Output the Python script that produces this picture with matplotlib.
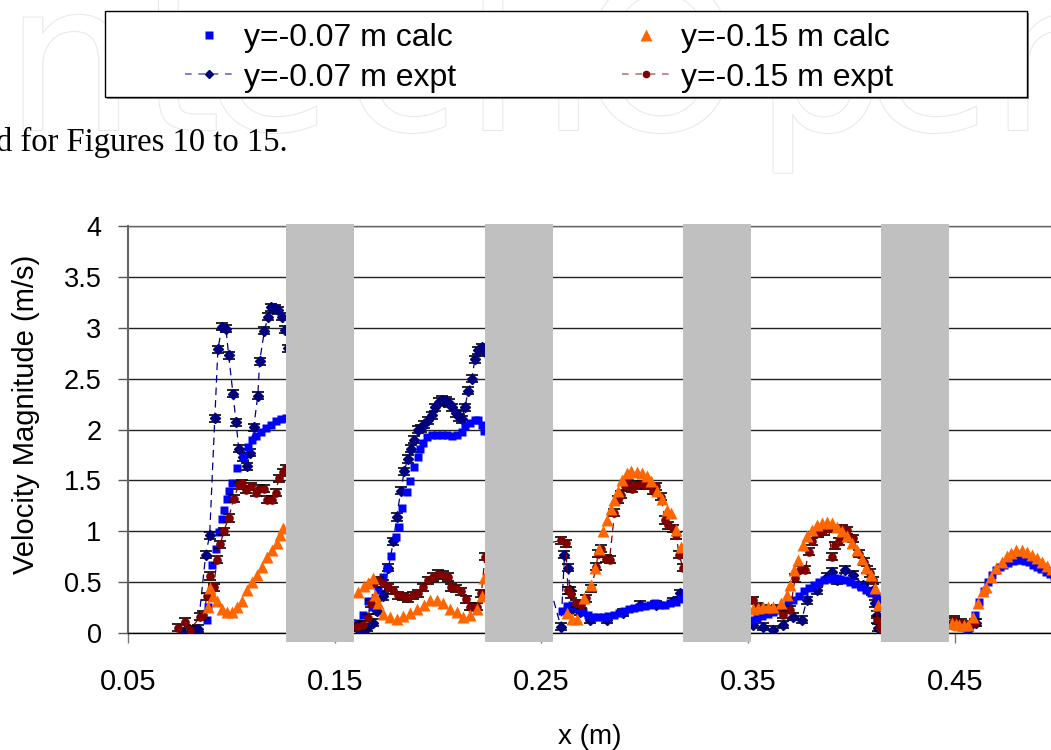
import matplotlib
matplotlib.use("Agg")
import matplotlib.pyplot as plt
import matplotlib.patheffects as pe
from matplotlib.patches import Rectangle
from matplotlib.lines import Line2D

# ---------------------------------------------------------------- data
# calculated velocity magnitude, y = -0.07 m
calc07_x = [.0883, .0888, .0905, .0924, .0942, .0953, .0966, .0978, .0991, .1002, .1027, .1055, .1079,
            .1098, .1119, .1143, .1167, .1191, .1216, .1240, .1264,
            .1615, .1635, .1663, .1680, .1712, .1733, .1752, .1772, .1796, .1812, .1828, .1849, .1865,
            .1886, .1902, .1913, .1926, .1945, .1969, .1994, .2018, .2042, .2066, .2091, .2115, .2131,
            .2155, .2179, .2195, .2212, .2223,
            .2600, .2625, .2650, .2675, .2700, .2725, .2750, .2775, .2800, .2825, .2850, .2875, .2900,
            .2925, .2950, .2975, .3000, .3025, .3050, .3075, .3100, .3125, .3150, .3175, .3195,
            .3520, .3545, .3570, .3595, .3620, .3645, .3670, .3695, .3720, .3745, .3770, .3795, .3820,
            .3845, .3870, .3895, .3920, .3945, .3970, .3995, .4020, .4045, .4070, .4095, .4120, .4135,
            .4480, .4505, .4530, .4555, .4580, .4600, .4620, .4640, .4660, .4680, .4700, .4720, .4740,
            .4760, .4780, .4800, .4820, .4840, .4860, .4880, .4900, .4920, .4940, .4960, .4980]
calc07_v = [.13, .26, .67, .83, .99, 1.12, 1.21, 1.32, 1.40, 1.47, 1.62, 1.73, 1.83,
            1.90, 1.94, 1.98, 2.01, 2.04, 2.08, 2.10, 2.11,
            .10, .18, .31, .26, .42, .55, .64, .76, .94, 1.04, 1.23, 1.39, 1.49,
            1.63, 1.73, 1.81, 1.87, 1.93, 1.95, 1.95, 1.95, 1.95, 1.94, 1.95, 1.98, 2.03,
            2.06, 2.09, 2.09, 2.04, 1.99,
            .22, .27, .28, .25, .21, .18, .16, .16, .16, .17, .18, .20, .22,
            .24, .25, .26, .27, .28, .29, .28, .28, .29, .30, .33, .39,
            .13, .15, .17, .19, .21, .23, .26, .29, .32, .36, .41, .44, .47,
            .50, .52, .53, .54, .53, .52, .50, .48, .45, .42, .39, .36, .33,
            .08, .07, .06, .05, .09, .18, .30, .41, .50, .57, .62, .65, .67,
            .69, .71, .72, .72, .71, .70, .67, .65, .63, .60, .58, .56]

# calculated velocity magnitude, y = -0.15 m
calc15_x = [.0885, .0897, .0912, .0929, .0953, .0978, .1002, .1026, .1050, .1075, .1099, .1123, .1147,
            .1171, .1195, .1220, .1236, .1252,
            .1615, .1640, .1663, .1687, .1695, .1712, .1736, .1768, .1800, .1833, .1865, .1897, .1930,
            .1962, .1994, .2026, .2058, .2091, .2123, .2155, .2187, .2211, .2223,
            .2626, .2650, .2674, .2706, .2739, .2758, .2779, .2800, .2819, .2835, .2851, .2871, .2892,
            .2913, .2935, .2961, .2988, .3013, .3032, .3061, .3085, .3110, .3126, .3150, .3174,
            .3526, .3550, .3574, .3598, .3622, .3662, .3687, .3703, .3724, .3743, .3765, .3784, .3808,
            .3833, .3857, .3881, .3905, .3929, .3954, .3978, .4002, .4026, .4050, .4071, .4094, .4114,
            .4131,
            .4485, .4505, .4523, .4545, .4563, .4590, .4614, .4639, .4654, .4678, .4702, .4727, .4751,
            .4775, .4799, .4824, .4848, .4872, .4897, .4921, .4945, .4970]
calc15_v = [.26, .44, .36, .31, .24, .21, .21, .26, .31, .42, .50, .57, .65,
            .75, .82, .88, .96, 1.03,
            .40, .46, .49, .54, .37, .29, .19, .16, .14, .17, .20, .24, .28,
            .32, .32, .29, .24, .21, .16, .18, .24, .36, .54,
            .20, .14, .14, .34, .47, .64, .83, 1.00, 1.11, 1.22, 1.31, 1.40, 1.50,
            1.57, 1.59, 1.58, 1.57, 1.54, 1.49, 1.40, 1.32, 1.21, 1.18, 1.01, .85,
            .24, .25, .26, .26, .26, .29, .37, .47, .62, .72, .86, .95, 1.01,
            1.06, 1.08, 1.09, 1.08, 1.04, 1.00, .95, .88, .82, .73, .64, .57, .44,
            .28,
            .10, .09, .08, .08, .08, .16, .29, .41, .45, .55, .64, .70, .76,
            .79, .82, .82, .80, .77, .74, .70, .66, .63]

# measured velocity magnitude, y = -0.07 m
expt07_x = [.0766, .0809, .0838, .0876, .0895, .0920, .0935, .0955, .0974, .0987, .1008, .1023, .1036,
            .1055, .1076, .1089, .1108, .1128, .1137, .1160, .1178, .1194, .1210, .1226, .1243, .1262,
            .1273,
            .1607, .1630, .1655, .1687, .1703, .1735, .1760, .1784, .1800, .1820, .1837, .1853, .1869,
            .1885, .1901, .1920, .1933, .1953, .1969, .1985, .2004, .2021, .2037, .2053, .2069, .2085,
            .2101, .2114, .2130, .2147, .2163, .2179, .2195, .2214, .2227,
            .2595, .2612, .2631, .2637, .2650, .2686, .2735, .2816, .2895, .2977, .3057, .3138, .3170,
            .3526, .3574, .3622, .3671, .3719, .3760, .3784, .3832, .3880, .3905, .3929, .3969, .4009,
            .4058, .4098, .4114, .4122, .4129,
            .4497, .4563, .4603]
expt07_v = [.01, .03, .04, .77, .96, 2.11, 2.79, 3.01, 2.99, 2.73, 2.35, 2.07, 1.81,
            1.73, 1.64, 1.77, 2.02, 2.33, 2.67, 2.97, 3.11, 3.20, 3.19, 3.17, 3.11, 2.98,
            2.80,
            .05, .01, .05, .10, .22, .36, .64, .90, 1.14, 1.40, 1.59, 1.71, 1.81,
            1.90, 2.00, 2.01, 2.05, 2.09, 2.14, 2.22, 2.27, 2.29, 2.28, 2.26, 2.22, 2.16,
            2.12, 2.10, 2.22, 2.38, 2.50, 2.69, 2.78, 2.81, 2.76,
            .06, .77, .64, .42, .24, .21, .13, .13, .20, .28, .28, .31, .39,
            .08, .06, .03, .08, .16, .13, .32, .42, .55, .60, .52, .62, .57,
            .47, .41, .29, .18, .05,
            .11, .03, .10]

# measured velocity magnitude, y = -0.15 m
expt15_x = [.0743, .0776, .0800, .0849, .0865, .0882, .0898, .0914, .0931, .0947, .0963, .0987, .1011,
            .1036, .1052, .1073, .1093, .1117, .1133, .1158, .1174, .1198, .1214, .1230, .1250, .1263,
            .1607, .1639, .1660, .1676, .1692, .1708, .1733, .1757, .1781, .1806, .1830, .1854, .1878,
            .1903, .1927, .1951, .1975, .2000, .2024, .2048, .2065, .2089, .2113, .2137, .2154, .2170,
            .2191, .2210, .2227,
            .2595, .2620, .2628, .2644, .2669, .2693, .2717, .2741, .2766, .2774, .2790, .2814, .2830,
            .2854, .2871, .2887, .2903, .2919, .2940, .2959, .2984, .3008, .3040, .3056, .3081, .3097,
            .3113, .3137, .3153, .3166, .3186, .3202,
            .3526, .3542, .3574, .3607, .3639, .3671, .3704, .3728, .3752, .3777, .3793, .3809, .3841,
            .3865, .3890, .3906, .3922, .3938, .3954, .3978, .4010, .4035, .4059, .4075, .4091, .4107,
            .4124, .4137,
            .4497, .4531, .4563, .4600]
expt15_v = [.05, .11, .03, .16, .18, .36, .56, .45, .72, .87, 1.00, 1.13, 1.32,
            1.45, 1.47, 1.41, 1.44, 1.38, 1.42, 1.42, 1.31, 1.31, 1.38, 1.52, 1.58, 1.62,
            .06, .08, .15, .29, .49, .52, .49, .45, .42, .37, .36, .34, .37,
            .39, .45, .52, .55, .58, .57, .55, .45, .44, .41, .33, .26, .26,
            .26, .39, .75,
            .91, .88, .42, .38, .29, .28, .34, .44, .65, .78, .83, .73, .72,
            1.18, 1.31, 1.36, 1.44, 1.47, 1.42, 1.45, 1.46, 1.45, 1.40, 1.44, 1.34, 1.11,
            1.06, 1.03, .96, .77, .64, .77,
            .32, .26, .24, .23, .24, .18, .23, .54, .62, .62, .80, .90, .98,
            1.00, 1.03, .75, .86, .90, 1.03, 1.01, .93, .78, .70, .62, .59, .52,
            .13, .05,
            .13, .10, .08, .10]

expt_err = 0.035          # half-width of the measurement error bars (m/s)

# obstacle (baffle) positions along x, start and end in metres
baffle_start = [0.1265, 0.2227, 0.3185, 0.4144]
baffle_end = [0.1594, 0.2556, 0.3514, 0.4473]
baffle_low, baffle_high = -0.085, 4.02

x_ticks = [0.05, 0.15, 0.25, 0.35, 0.45]
x_ticklabels = ["0.05", "0.15", "0.25", "0.35", "0.45"]
y_ticks = [0, 0.5, 1, 1.5, 2, 2.5, 3, 3.5, 4]
y_ticklabels = ["0", "0.5", "1", "1.5", "2", "2.5", "3", "3.5", "4"]

labels = ["y=-0.07 m calc", "y=-0.07 m expt", "y=-0.15 m calc", "y=-0.15 m expt"]

# --------------------------------------------------------------- styling
BLUE = "#0000ff"
ORANGE = "#ff6600"
NAVY = "#000080"
MAROON = "#800000"
GREY = "#c0c0c0"

W, H = 1051, 750
plt.rcParams["font.family"] = ["Liberation Sans", "DejaVu Sans"]

fig = plt.figure(figsize=(W / 100, H / 100), dpi=100)


def fx(px):
    return px / W


def fy(py):
    return 1 - py / H


# faint publisher watermark behind the header area
wm_letters = ["n", "t", "e", "c", "h", "O", "p", "e", "n"]
wm_left = [5, 140, 205, 345, 465, 580, 755, 865, 990]
for ch, lx in zip(wm_letters, wm_left):
    fig.text(fx(lx), fy(130), ch, fontsize=148, family="DejaVu Sans", color="white",
             ha="left", va="baseline", zorder=0,
             path_effects=[pe.withStroke(linewidth=1.6, foreground="#e9e9e9")])

fig.text(fx(-4), fy(151), "d for Figures 10 to 15.", family="Liberation Serif",
         fontsize=23.5, ha="left", va="baseline", color="black", zorder=1)

ax = fig.add_axes([fx(128), fy(633), (1058 - 128) / W, (633 - 226) / H])
ax.set_zorder(2)
ax.set_xlim(0.05, 0.5)
ax.set_ylim(0, 4)

ax.set_xticks(x_ticks)
ax.set_xticklabels(x_ticklabels, fontsize=21)
ax.set_yticks(y_ticks)
ax.set_yticklabels(y_ticklabels, fontsize=19.5)
ax.tick_params(axis="x", direction="out", length=7, width=1, color="#777777", pad=18)
ax.tick_params(axis="y", direction="out", length=7, width=1, color="#555555", pad=12)

ax.yaxis.grid(True, color="#222222", lw=1)
ax.set_axisbelow(True)
ax.spines["right"].set_visible(False)
ax.spines["top"].set_color("#666666")
ax.spines["top"].set_linewidth(1)
ax.spines["left"].set_color("#666666")
ax.spines["left"].set_linewidth(1.5)
ax.spines["bottom"].set_color("black")
ax.spines["bottom"].set_linewidth(1)

# series
ax.errorbar(expt07_x, expt07_v, yerr=expt_err, color=NAVY, ls=(0, (6, 4)), lw=0.9,
            marker="D", ms=5, mec=NAVY, mfc=NAVY, ecolor="black", elinewidth=1,
            capsize=4, capthick=1.2, zorder=3)
ax.plot(calc07_x, calc07_v, ls="none", marker="s", ms=6.3, color=BLUE, mec="none", zorder=4)
ax.errorbar(expt15_x, expt15_v, yerr=expt_err, color=MAROON, ls=(0, (6, 4)), lw=0.9,
            marker="o", ms=5.2, mec=MAROON, mfc=MAROON, ecolor="black", elinewidth=1,
            capsize=4, capthick=1.2, zorder=4.5)
ax.plot(calc15_x, calc15_v, ls="none", marker="^", ms=9, color=ORANGE, mec="none", zorder=5)

# baffles
widths = [e - s for s, e in zip(baffle_start, baffle_end)]
ax.bar(baffle_start, baffle_high - baffle_low, width=widths, bottom=baffle_low, align="edge",
       color=GREY, edgecolor="none", clip_on=False, zorder=6)

fig.text(fx(26), fy(414), "Velocity Magnitude (m/s)", rotation=90, fontsize=21,
         ha="center", va="center")
fig.text(fx(590), fy(737), "x (m)", fontsize=20, ha="center", va="center")

# legend box with a slight drop shadow
fig.patches.append(Rectangle((fx(107), fy(99)), (1027 - 105) / W, (97 - 11) / H,
                             transform=fig.transFigure, facecolor="#8a8a8a",
                             edgecolor="none", zorder=1))
fig.patches.append(Rectangle((fx(105), fy(97)), (1027 - 105) / W, (97 - 11) / H,
                             transform=fig.transFigure, facecolor="white",
                             edgecolor="black", lw=1, zorder=1))

handles = [
    Line2D([], [], ls="none", marker="s", ms=6.3, color=BLUE, mec="none"),
    Line2D([], [], ls=(0, (4, 4)), lw=1.2, color="#6b6bb5", marker="D", ms=4.5,
           mfc=NAVY, mec=NAVY),
    Line2D([], [], ls="none", marker="^", ms=8, color=ORANGE, mec="none"),
    Line2D([], [], ls=(0, (4, 4)), lw=1.2, color="#b57a7a", marker="o", ms=4.5,
           mfc=MAROON, mec=MAROON),
]
leg = fig.legend(handles, labels, ncol=2, loc="upper left",
                 bbox_to_anchor=(fx(185), fy(23)), frameon=False, fontsize=23,
                 borderpad=0, borderaxespad=0, handlelength=1.5, handletextpad=0.34,
                 columnspacing=5.2, labelspacing=0.3)
leg.set_zorder(3)

fig.savefig("out.png", dpi=100)
